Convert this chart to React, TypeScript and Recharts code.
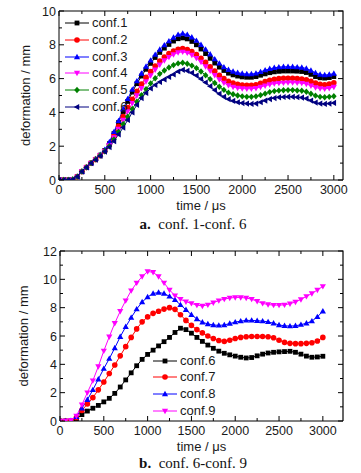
import React from 'react';
import { LineChart, Line, XAxis, YAxis, Legend } from 'recharts';

// ---------- data: chart a ----------
const TIME_A = [
  0, 50, 100, 150, 200, 250, 300, 350, 400, 450, 500, 550, 600, 650, 700, 750, 800, 850, 900, 950,
  1000, 1050, 1100, 1150, 1200, 1250, 1300, 1350, 1400, 1450, 1500, 1550, 1600, 1650, 1700, 1750,
  1800, 1850, 1900, 1950, 2000, 2050, 2100, 2150, 2200, 2250, 2300, 2350, 2400, 2450, 2500, 2550,
  2600, 2650, 2700, 2750, 2800, 2850, 2900, 2950, 3000,
];
const CONF1_A = [
  0, 0, 0, 0.03, 0.2, 0.5, 0.75, 1.0, 1.22, 1.47, 1.75, 2.15, 2.75, 3.4, 4.05, 4.65, 5.2, 5.7, 6.15, 6.55,
  6.9, 7.25, 7.55, 7.8, 8.02, 8.22, 8.36, 8.41, 8.35, 8.2, 8.0, 7.75, 7.48, 7.2, 6.92, 6.68,
  6.48, 6.32, 6.22, 6.15, 6.1, 6.08, 6.08, 6.12, 6.2, 6.28, 6.35, 6.4, 6.43, 6.45, 6.45, 6.45,
  6.44, 6.42, 6.36, 6.25, 6.12, 6.05, 6.03, 6.06, 6.12,
];
const CONF2_A = [
  0, 0, 0, 0.03, 0.2, 0.5, 0.75, 1.0, 1.22, 1.45, 1.72, 2.1, 2.62, 3.18, 3.75, 4.28, 4.78, 5.25, 5.68, 6.07,
  6.42, 6.75, 7.04, 7.28, 7.48, 7.63, 7.74, 7.78, 7.72, 7.6, 7.42, 7.2, 6.96, 6.7, 6.44, 6.2,
  6.0, 5.84, 5.73, 5.66, 5.62, 5.6, 5.6, 5.64, 5.72, 5.82, 5.9, 5.96, 6.0, 6.02, 6.02, 6.02,
  6.0, 5.98, 5.93, 5.84, 5.73, 5.66, 5.64, 5.68, 5.75,
];
const CONF3_A = [
  0, 0, 0, 0.03, 0.2, 0.5, 0.75, 1.0, 1.25, 1.5, 1.8, 2.25, 2.85, 3.5, 4.2, 4.8, 5.35, 5.85, 6.3, 6.72,
  7.08, 7.42, 7.72, 7.98, 8.22, 8.43, 8.6, 8.67, 8.6, 8.45, 8.25, 8.0, 7.73, 7.44, 7.15, 6.9,
  6.68, 6.52, 6.42, 6.35, 6.3, 6.27, 6.27, 6.31, 6.4, 6.5, 6.58, 6.64, 6.68, 6.7, 6.7, 6.7,
  6.68, 6.66, 6.6, 6.48, 6.34, 6.24, 6.21, 6.24, 6.3,
];
const CONF4_A = [
  0, 0, 0, 0.03, 0.2, 0.5, 0.75, 1.0, 1.22, 1.45, 1.7, 2.05, 2.52, 3.02, 3.55, 4.06, 4.55, 5.0, 5.43, 5.83,
  6.18, 6.52, 6.82, 7.07, 7.27, 7.43, 7.54, 7.58, 7.52, 7.4, 7.21, 6.98, 6.72, 6.46, 6.2, 5.95,
  5.75, 5.6, 5.5, 5.44, 5.41, 5.4, 5.4, 5.43, 5.5, 5.58, 5.65, 5.7, 5.73, 5.75, 5.76, 5.76,
  5.75, 5.73, 5.68, 5.58, 5.47, 5.41, 5.39, 5.43, 5.5,
];
const CONF5_A = [
  0, 0, 0, 0.03, 0.2, 0.5, 0.75, 1.0, 1.22, 1.45, 1.7, 2.0, 2.4, 2.85, 3.3, 3.75, 4.2, 4.63, 5.02, 5.38,
  5.72, 6.02, 6.28, 6.48, 6.66, 6.8, 6.9, 6.94, 6.88, 6.77, 6.62, 6.42, 6.2, 5.97, 5.74, 5.52,
  5.33, 5.17, 5.07, 5.0, 4.95, 4.92, 4.92, 4.95, 5.02, 5.11, 5.2, 5.26, 5.29, 5.31, 5.32, 5.32,
  5.3, 5.28, 5.22, 5.1, 4.99, 4.92, 4.9, 4.92, 4.96,
];
const CONF6_A = [
  0, 0, 0, 0.03, 0.2, 0.5, 0.75, 1.0, 1.2, 1.42, 1.68, 1.95, 2.3, 2.7, 3.1, 3.55, 4.0, 4.45, 4.85, 5.15,
  5.42, 5.62, 5.8, 5.95, 6.1, 6.25, 6.42, 6.52, 6.46, 6.34, 6.18, 5.98, 5.77, 5.55, 5.32, 5.1,
  4.92, 4.78, 4.68, 4.6, 4.55, 4.52, 4.5, 4.52, 4.6, 4.7, 4.79, 4.85, 4.89, 4.91, 4.92, 4.92,
  4.9, 4.88, 4.82, 4.7, 4.58, 4.52, 4.5, 4.52, 4.56,
];

// ---------- data: chart b ----------
const TIME_B = [
  0, 62.5, 125, 187.5, 250, 312.5, 375, 437.5, 500, 562.5, 625, 687.5, 750, 812.5, 875, 937.5,
  1000, 1062.5, 1125, 1187.5, 1250, 1312.5, 1375, 1437.5, 1500, 1562.5, 1625, 1687.5, 1750, 1812.5,
  1875, 1937.5, 2000, 2062.5, 2125, 2187.5, 2250, 2312.5, 2375, 2437.5, 2500, 2562.5, 2625, 2687.5,
  2750, 2812.5, 2875, 2937.5, 3000,
];
const CONF6_B = [
  0, 0, 0.02, 0.15, 0.45, 0.7, 0.9, 1.1, 1.35, 1.6, 1.95, 2.4, 2.9, 3.4, 3.9, 4.35,
  4.7, 5.0, 5.3, 5.6, 5.9, 6.25, 6.55, 6.45, 6.2, 5.9, 5.62, 5.36, 5.13, 4.93,
  4.78, 4.67, 4.58, 4.5, 4.45, 4.48, 4.6, 4.72, 4.8, 4.85, 4.88, 4.9, 4.92, 4.85,
  4.72, 4.58, 4.5, 4.52, 4.57,
];
const CONF7_B = [
  0, 0, 0.02, 0.25, 0.75, 1.2, 1.65, 2.2, 2.75, 3.35, 3.95, 4.6, 5.25, 5.9, 6.5, 7.0,
  7.35, 7.6, 7.75, 7.9, 8.0, 7.88, 7.5, 7.1, 6.75, 6.45, 6.22, 6.0, 5.82, 5.68,
  5.62, 5.7, 5.82, 5.9, 5.95, 5.96, 5.96, 5.96, 5.95, 5.88, 5.7, 5.55, 5.48, 5.46,
  5.46, 5.48, 5.52, 5.65, 5.9,
];
const CONF8_B = [
  0, 0, 0.03, 0.3, 0.9, 1.5, 2.2, 2.95, 3.7, 4.4, 5.15, 5.95, 6.65, 7.3, 7.9, 8.4,
  8.75, 9.0, 9.07, 9.0, 8.8, 8.55, 8.2, 7.85, 7.5, 7.2, 6.97, 6.85, 6.78, 6.75,
  6.78, 6.88, 6.98, 7.05, 7.1, 7.1, 7.08, 7.05, 7.0, 6.9, 6.78, 6.72, 6.7, 6.72,
  6.8, 6.9, 7.05, 7.35, 7.75,
];
const CONF9_B = [
  0, 0, 0.05, 0.35, 1.15, 2.0, 2.85, 3.85, 4.95, 5.95, 6.9, 7.75, 8.5, 9.2, 9.75, 10.2,
  10.55, 10.5, 10.2, 9.75, 9.25, 8.85, 8.6, 8.42, 8.3, 8.18, 8.12, 8.2, 8.35, 8.5,
  8.6, 8.68, 8.72, 8.72, 8.68, 8.6, 8.45, 8.3, 8.22, 8.18, 8.18, 8.2, 8.28, 8.4,
  8.58, 8.8, 9.0, 9.25, 9.5,
];

// ---------- ticks ----------
const X_TICKS_A = [0, 250, 500, 750, 1000, 1250, 1500, 1750, 2000, 2250, 2500, 2750, 3000];
const X_TICKS_B = [0, 250, 500, 750, 1000, 1250, 1500, 1750, 2000, 2250, 2500, 2750, 3000];
const Y_TICKS_A = [0, 1, 2, 3, 4, 5, 6, 7, 8, 9, 10];
const Y_TICKS_B = [0, 1, 2, 3, 4, 5, 6, 7, 8, 9, 10, 11, 12];

const SERIES_A = [
  { key: 'c1', name: 'conf.1', color: '#000000', marker: 'square', values: CONF1_A },
  { key: 'c2', name: 'conf.2', color: '#ff0000', marker: 'circle', values: CONF2_A },
  { key: 'c3', name: 'conf.3', color: '#0000ff', marker: 'up', values: CONF3_A },
  { key: 'c4', name: 'conf.4', color: '#ff00ff', marker: 'down', values: CONF4_A },
  { key: 'c5', name: 'conf.5', color: '#008000', marker: 'diamond', values: CONF5_A },
  { key: 'c6', name: 'conf.6', color: '#000080', marker: 'left', values: CONF6_A },
];
const SERIES_B = [
  { key: 'c6', name: 'conf.6', color: '#000000', marker: 'square', values: CONF6_B },
  { key: 'c7', name: 'conf.7', color: '#ff0000', marker: 'circle', values: CONF7_B },
  { key: 'c8', name: 'conf.8', color: '#0000ff', marker: 'up', values: CONF8_B },
  { key: 'c9', name: 'conf.9', color: '#ff00ff', marker: 'down', values: CONF9_B },
];

const dataA = TIME_A.map((t, i) => {
  const row: any = { t };
  SERIES_A.forEach((s) => (row[s.key] = s.values[i]));
  return row;
});
const dataB = TIME_B.map((t, i) => {
  const row: any = { t };
  SERIES_B.forEach((s) => (row[s.key] = s.values[i]));
  return row;
});

const FONT = "'Liberation Sans Narrow', 'Liberation Sans', Arial, sans-serif";
const TEXT = '#1a1a1a';

function Marker({ kind, cx, cy, color }: { kind: string; cx: number; cy: number; color: string }) {
  if (cx == null || cy == null || isNaN(cx) || isNaN(cy)) return <g />;
  switch (kind) {
    case 'square':
      return <rect x={cx - 2.4} y={cy - 2.4} width={4.8} height={4.8} fill={color} />;
    case 'circle':
      return <circle cx={cx} cy={cy} r={2.8} fill={color} />;
    case 'up':
      return <path d={`M${cx},${cy - 3.2}L${cx + 3.1},${cy + 2.2}L${cx - 3.1},${cy + 2.2}Z`} fill={color} />;
    case 'down':
      return <path d={`M${cx},${cy + 3.2}L${cx + 3.1},${cy - 2.2}L${cx - 3.1},${cy - 2.2}Z`} fill={color} />;
    case 'diamond':
      return <path d={`M${cx},${cy - 3.2}L${cx + 2.8},${cy}L${cx},${cy + 3.2}L${cx - 2.8},${cy}Z`} fill={color} />;
    case 'left':
    default:
      return <path d={`M${cx - 3.2},${cy}L${cx + 2.2},${cy - 3.1}L${cx + 2.2},${cy + 3.1}Z`} fill={color} />;
  }
}

// bottom axis tick: mirrors each tick on the top edge; tick 0 also draws the top and right frame
const makeBottomTick = (majorStep: number, plotW: number, plotH: number) => (props: any) => {
  const { x, y, payload, index } = props;
  const v = payload.value;
  const major = v % majorStep === 0;
  const len = major ? 5 : 3;
  const top = y - plotH;
  return (
    <g>
      <line x1={x} y1={y} x2={x} y2={y - len} stroke="#000" strokeWidth={1} />
      <line x1={x} y1={top} x2={x} y2={top + len} stroke="#000" strokeWidth={1} />
      {index === 0 && (
        <path d={`M${x},${top}H${x + plotW}V${y}`} fill="none" stroke="#000" strokeWidth={1.2} />
      )}
      {major && (
        <text x={x} y={y + 13.5} textAnchor="middle" fontSize={12.5} fontFamily={FONT} fill={TEXT}>
          {v}
        </text>
      )}
    </g>
  );
};
// left axis tick: mirrors each tick on the right edge
const makeLeftTick = (majorStep: number, plotW: number) => (props: any) => {
  const { x, y, payload } = props;
  const v = payload.value;
  const major = v % majorStep === 0;
  const len = major ? 5 : 3;
  return (
    <g>
      <line x1={x} y1={y} x2={x + len} y2={y} stroke="#000" strokeWidth={1} />
      <line x1={x + plotW} y1={y} x2={x + plotW - len} y2={y} stroke="#000" strokeWidth={1} />
      {major && (
        <text x={x - 3} y={y + 4.5} textAnchor="end" fontSize={12.5} fontFamily={FONT} fill={TEXT}>
          {v}
        </text>
      )}
    </g>
  );
};

function LegendBox({ series }: { series: any[] }) {
  return (
    <div style={{ fontFamily: FONT, fontSize: 13, color: TEXT }}>
      {series.map((s) => (
        <div key={s.key} style={{ display: 'flex', alignItems: 'center', height: 16.7 }}>
          <svg width={24} height={16} style={{ display: 'block' }}>
            <line x1={0} y1={8} x2={24} y2={8} stroke={s.color} strokeWidth={1} />
            <Marker kind={s.marker} cx={12} cy={8} color={s.color} />
          </svg>
          <span style={{ marginLeft: 3, lineHeight: '16px' }}>{s.name}</span>
        </div>
      ))}
    </div>
  );
}

function Panel({
  data, series, width, height, margin, xAxisHeight, yAxisWidth, xDomain, yDomain, xTicks, yTicks,
  legendPos, yLabelOffset, xLabelOffset,
}: any) {
  const plotW = width - margin.left - margin.right - yAxisWidth;
  const plotH = height - margin.top - margin.bottom - xAxisHeight;
  return (
    <LineChart width={width} height={height} data={data} margin={margin}>
      <XAxis
        dataKey="t" type="number" domain={xDomain} ticks={xTicks} interval={0}
        allowDataOverflow height={xAxisHeight}
        tickSize={0} tickMargin={0} tickLine={false}
        axisLine={{ stroke: '#000', strokeWidth: 1 }}
        tick={makeBottomTick(500, plotW, plotH)}
        label={{ value: 'time / μs', position: 'insideBottom', offset: xLabelOffset, fontSize: 13, fontFamily: FONT, fill: TEXT }}
      />
      <YAxis
        type="number" domain={yDomain} ticks={yTicks} interval={0} allowDataOverflow width={yAxisWidth}
        tickSize={0} tickMargin={0} tickLine={false}
        axisLine={{ stroke: '#000', strokeWidth: 1 }} tick={makeLeftTick(2, plotW)}
        label={{ value: 'deformation / mm', angle: -90, position: 'insideLeft', offset: yLabelOffset, fontSize: 13, fontFamily: FONT, fill: TEXT, style: { textAnchor: 'middle' } }}
      />
      <Legend
        layout="vertical" align="center" verticalAlign="middle"
        wrapperStyle={{ left: legendPos.left, top: legendPos.top, width: 80, height: 'auto' }}
        content={() => <LegendBox series={series} />}
      />
      {series.map((s: any) => (
        <Line
          key={s.key} dataKey={s.key} name={s.name} type="linear" stroke={s.color} strokeWidth={1}
          isAnimationActive={false} legendType="none"
          dot={(p: any) => <Marker key={`${s.key}-${p.index}`} kind={s.marker} cx={p.cx} cy={p.cy} color={s.color} />}
          activeDot={false}
        />
      ))}
    </LineChart>
  );
}

export default function App() {
  return (
    <div style={{ position: 'absolute', left: 0, top: 0, width: 361, height: 473, background: '#fff' }}>
      <div style={{ position: 'absolute', left: 0, top: 0 }}>
        <Panel
          data={dataA} series={SERIES_A} width={361} height={215}
          margin={{ top: 11, right: 18, bottom: 0, left: 0 }} xAxisHeight={35} yAxisWidth={59}
          xDomain={[0, 3100]} yDomain={[0, 10]} xTicks={X_TICKS_A} yTicks={Y_TICKS_A}
          legendPos={{ left: 65, top: 15 }} yLabelOffset={25} xLabelOffset={5.5}
        />
      </div>
      <div style={{ position: 'absolute', left: 0, top: 235 }}>
        <Panel
          data={dataB} series={SERIES_B} width={361} height={220}
          margin={{ top: 16, right: 18, bottom: 0, left: 0 }} xAxisHeight={34} yAxisWidth={60}
          xDomain={[0, 3230]} yDomain={[0, 12]} xTicks={X_TICKS_B} yTicks={Y_TICKS_B}
          legendPos={{ left: 153, top: 117.4 }} yLabelOffset={23} xLabelOffset={4.5}
        />
      </div>
      <div style={{ position: 'absolute', left: 0, width: 386, top: 216, textAlign: 'center', fontFamily: "'Liberation Serif', serif", fontSize: 15, color: '#111' }}>
        <b>a.</b>&nbsp;&nbsp;conf. 1-conf. 6
      </div>
      <div style={{ position: 'absolute', left: 0, width: 386, top: 455, textAlign: 'center', fontFamily: "'Liberation Serif', serif", fontSize: 15, color: '#111' }}>
        <b>b.</b>&nbsp;&nbsp;conf. 6-conf. 9
      </div>
    </div>
  );
}
